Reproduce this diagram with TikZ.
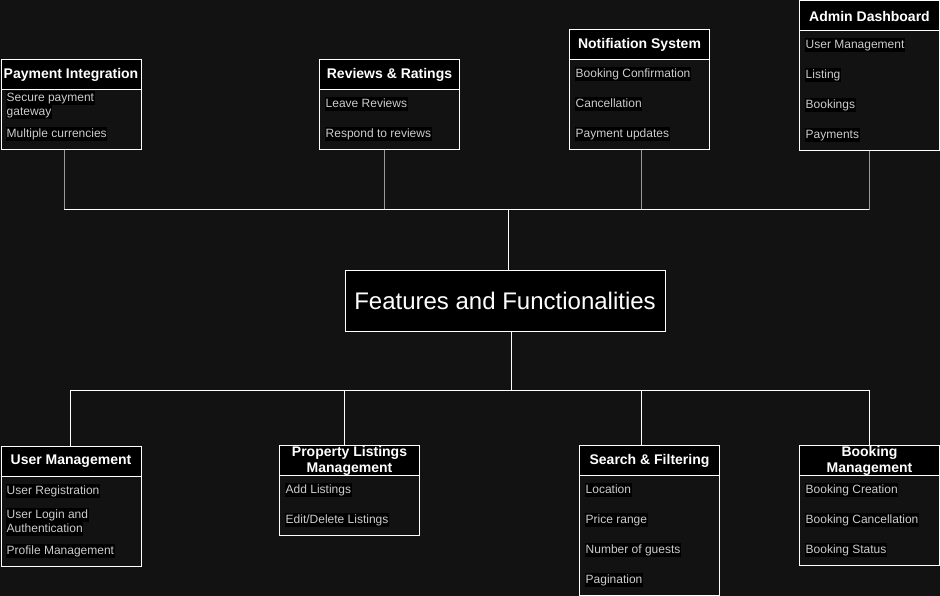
\documentclass[tikz,border=0pt]{standalone}
\usepackage{fontspec}
\setmainfont{Liberation Sans}
\definecolor{bg}{HTML}{121212}
\definecolor{itemgray}{HTML}{CCCCCC}
\definecolor{linkgray}{HTML}{999999}
\begin{document}
\begin{tikzpicture}[x=1pt,y=-1pt,
 box/.style={draw=white, fill=bg, line width=1pt, anchor=north west, inner sep=0pt, minimum width=140pt, minimum height=#1},
 head/.style={draw=white, fill=black, line width=1pt, anchor=north west, inner sep=0pt, minimum width=140pt, minimum height=30pt, text=white, align=center, font=\bfseries\fontsize{14}{16}\selectfont},
 item/.style={fill=black, text=itemgray, anchor=west, inner xsep=0.5pt, inner ysep=0pt, text height=10.5pt, text depth=3.5pt, font=\fontsize{12}{14}\selectfont},
 bus/.style={draw=white, line width=1pt},
 upl/.style={draw=linkgray, line width=1pt},
 core/.style={draw=white, fill=black, line width=1pt, inner sep=0pt, minimum width=320pt, minimum height=60pt, text=white, font=\fontsize{24}{28}\selectfont}
]
\fill[bg] (0,0) rectangle (940,596);
\useasboundingbox (0,0) rectangle (940,596);

% ---- top boxes ----
\node[box=90] (pay) at (0.5,59) {};
\node[head] (payh) at (0.5,59) {Payment Integration};
\node[item] (pay1a) at (6,98) {Secure payment};
\node[item] (pay1b) at (6,112) {gateway};
\node[item] (pay2) at (6,134) {Multiple currencies};

\node[box=90] (rev) at (319,59) {};
\node[head] (revh) at (319,59) {Reviews \& Ratings};
\node[item] (rev1) at (325,104) {Leave Reviews};
\node[item] (rev2) at (325,134) {Respond to reviews};

\node[box=120] (not) at (569,29) {};
\node[head] (noth) at (569,29) {Notifiation System};
\node[item] (not1) at (575,74) {Booking Confirmation};
\node[item] (not2) at (575,104) {Cancellation};
\node[item] (not3) at (575,134) {Payment updates};

\node[box=149.5] (adm) at (799,0.5) {};
\node[head] (admh) at (799,0.5) {Admin Dashboard};
\node[item] (adm1) at (805,45) {User Management};
\node[item] (adm2) at (805,75) {Listing};
\node[item] (adm3) at (805,105) {Bookings};
\node[item] (adm4) at (805,135) {Payments};

% ---- centre ----
\node[core] (core) at (505,301) {Features and Functionalities};

% ---- bottom boxes ----
\node[box=120] (um) at (0.5,446) {};
\node[head] (umh) at (0.5,446) {User Management};
\node[item] (um1) at (6,491) {User Registration};
\node[item] (um2a) at (6,515) {User Login and};
\node[item] (um2b) at (6,529) {Authentication};
\node[item] (um3) at (6,551) {Profile Management};

\node[box=90] (pl) at (279,445) {};
\node[head] (plh) at (279,445) {Property Listings\\Management};
\node[item] (pl1) at (285,490) {Add Listings};
\node[item] (pl2) at (285,520) {Edit/Delete Listings};

\node[box=150] (sf) at (579,445) {};
\node[head] (sfh) at (579,445) {Search \& Filtering};
\node[item] (sf1) at (585,490) {Location};
\node[item] (sf2) at (585,520) {Price range};
\node[item] (sf3) at (585,550) {Number of guests};
\node[item] (sf4) at (585,580) {Pagination};

\node[box=120] (bm) at (799,445) {};
\node[head] (bmh) at (799,445) {Booking\\Management};
\node[item] (bm1) at (805,490) {Booking Creation};
\node[item] (bm2) at (805,520) {Booking Cancellation};
\node[item] (bm3) at (805,550) {Booking Status};

% ---- top connectors ----
\coordinate (t1) at (64,210);
\coordinate (t2) at (384,210);
\coordinate (t3) at (641,210);
\coordinate (t4) at (869,210);
\coordinate (tc) at (508,210);
\draw[upl] (pay.south -| t1) -- (t1);
\draw[upl] (rev.south -| t2) -- (t2);
\draw[upl] (not.south -| t3) -- (t3);
\draw[upl] (adm.south -| t4) -- (t4);
\draw[bus] (t1) -- (t4);
\draw[bus] (tc) -- (core.north -| tc);

% ---- bottom connectors ----
\coordinate (bc) at (511,390);
\coordinate (b1) at (70,390);
\coordinate (b2) at (344,390);
\coordinate (b3) at (641,390);
\coordinate (b4) at (869,390);
\draw[bus] (core.south -| bc) -- (bc);
\draw[bus] (b1) -- (b4);
\draw[bus] (b1) -- (um.north -| b1);
\draw[bus] (b2) -- (pl.north -| b2);
\draw[bus] (b3) -- (sf.north -| b3);
\draw[bus] (b4) -- (bm.north -| b4);
\end{tikzpicture}
\end{document}
